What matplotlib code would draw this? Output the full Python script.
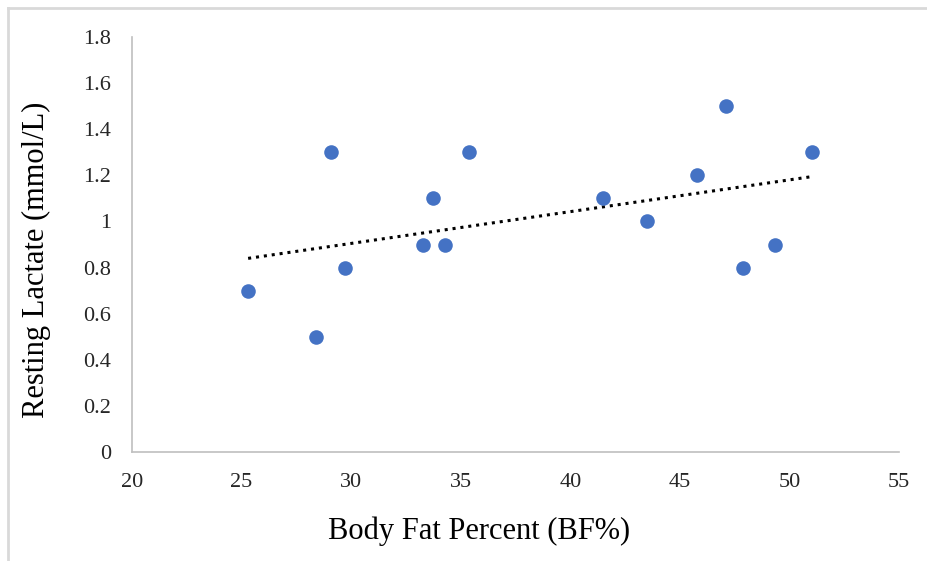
import numpy as np
import matplotlib
matplotlib.use("Agg")
import matplotlib.pyplot as plt
from matplotlib.lines import Line2D

# Werte
body_fat = [25.3, 28.4, 29.1, 29.7, 33.3, 33.75, 34.3, 35.4, 41.5, 43.5, 45.8, 47.1, 47.9, 49.35, 51.05]
lactate = [0.7, 0.5, 1.3, 0.8, 0.9, 1.1, 0.9, 1.3, 1.1, 1.0, 1.2, 1.5, 0.8, 0.9, 1.3]
x_ticks = [20, 25, 30, 35, 40, 45, 50, 55]
y_ticks = [0, 0.2, 0.4, 0.6, 0.8, 1.0, 1.2, 1.4, 1.6, 1.8]
y_labels = ["0", "0.2", "0.4", "0.6", "0.8", "1", "1.2", "1.4", "1.6", "1.8"]

plt.rcParams['font.family'] = ['Liberation Serif', 'DejaVu Serif']

fig = plt.figure(figsize=(9.28, 5.61), dpi=100)
ax = fig.add_axes([0.1422, 0.1943, 0.8266, 0.7397])

# Rahmen oben und links wie im Screenshot
fig.add_artist(Line2D([8/928, 8/928], [0, 1 - 8/561], transform=fig.transFigure, color='#d9d9d9', lw=2))
fig.add_artist(Line2D([8/928, 1], [1 - 8/561, 1 - 8/561], transform=fig.transFigure, color='#d9d9d9', lw=2))

ax.scatter(body_fat, lactate, s=110, color='#4472C4', zorder=3, linewidths=0)

# lineare Trendlinie
slope, intercept = np.polyfit(body_fat, lactate, 1)
xs = np.array([min(body_fat), max(body_fat)])
ax.plot(xs, slope * xs + intercept, color='black', linestyle=(0, (1, 1.6)), lw=2.2, zorder=2)

ax.set_xlim(20, 55)
ax.set_ylim(0, 1.8)
ax.set_xticks(x_ticks)
ax.set_yticks(y_ticks)
ax.set_yticklabels(y_labels)
ax.tick_params(length=0, labelsize=16, colors='#262626')
ax.tick_params(axis='x', pad=15)
ax.tick_params(axis='y', pad=15)

for side in ['top', 'right']:
    ax.spines[side].set_visible(False)
for side in ['left', 'bottom']:
    ax.spines[side].set_color('#bfbfbf')
    ax.spines[side].set_linewidth(1.2)

# Achsentitel frei platziert wie im Original (nicht mittig zur Achse)
fig.text(479/928, 1 - 531/561, 'Body Fat Percent (BF%)', fontsize=22, ha='center', va='center')
fig.text(36/928, 1 - 260/561, 'Resting Lactate (mmol/L)', fontsize=22, ha='center', va='center', rotation=90)

fig.savefig('out.png', dpi=100)
